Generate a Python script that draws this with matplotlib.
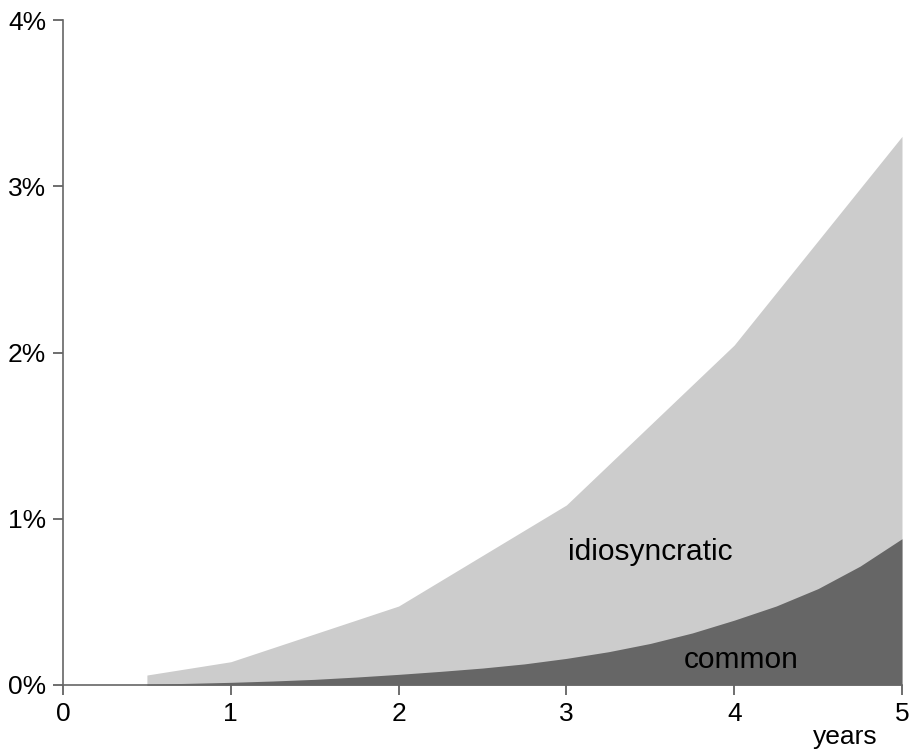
import matplotlib
matplotlib.use("Agg")
import matplotlib.pyplot as plt

# total (idiosyncratic + common), piecewise linear, in %
total_x = [0.5, 0.5, 1, 2, 3, 4, 5]
total_y = [0.0, 0.06, 0.14, 0.475, 1.083, 2.045, 3.30]

# common component, in %
common_x = [0.5, 0.75, 1, 1.25, 1.5, 1.75, 2, 2.25, 2.5, 2.75, 3, 3.25, 3.5, 3.75, 4, 4.25, 4.5, 4.75, 5]
common_y = [0.005, 0.010, 0.016, 0.024, 0.034, 0.048, 0.064, 0.082, 0.102, 0.127, 0.160, 0.200, 0.250, 0.313, 0.390, 0.475, 0.580, 0.715, 0.88]

xticks = [0, 1, 2, 3, 4, 5]
yticks = [0, 1, 2, 3, 4]
ytick_labels = ["0%", "1%", "2%", "3%", "4%"]

plt.rcParams['font.family'] = ['Liberation Sans', 'DejaVu Sans']

fig = plt.figure(figsize=(9.12, 7.51), dpi=100)
ax = fig.add_axes([63/912, 66/751, (902-63)/912, (685-20)/751])

ax.fill_between(total_x, 0, total_y, color='#cccccc', linewidth=0, zorder=1)
ax.fill_between(common_x, 0, common_y, color='#666666', linewidth=0, zorder=2)

ax.set_xlim(0, 5)
ax.set_ylim(0, 4)
ax.set_xticks(xticks)
ax.set_xticklabels([str(t) for t in xticks])
ax.set_yticks(yticks)
ax.set_yticklabels(ytick_labels)

for s in ['top', 'right']:
    ax.spines[s].set_visible(False)
for s in ['left', 'bottom']:
    ax.spines[s].set_color('#666666')
    ax.spines[s].set_linewidth(1.2)
    ax.spines[s].set_zorder(3)

ax.tick_params(axis='both', direction='out', length=7, width=1.2, color='#555555',
               labelsize=19, pad=5)

ax.text(3.5, 0.80, "idiosyncratic", fontsize=21.5, ha='center', va='center', zorder=4)
ax.text(4.04, 0.15, "common", fontsize=21.5, ha='center', va='center', zorder=4)

fig.text(845/912, 1 - 737/751, "years", fontsize=19, ha='center', va='center')

fig.savefig("out.png", dpi=100)
